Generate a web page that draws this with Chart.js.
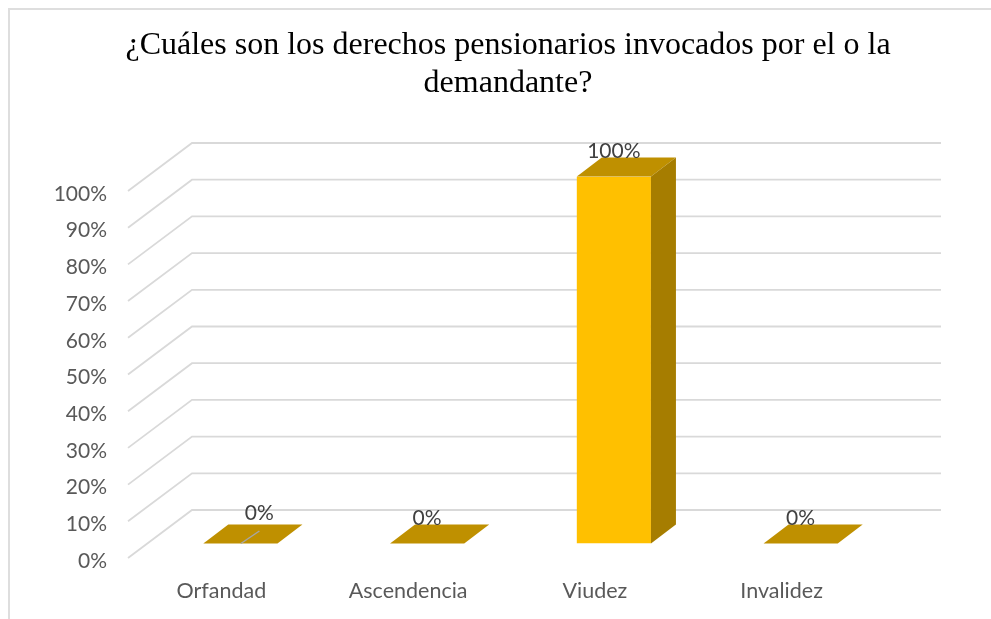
<!DOCTYPE html>
<html><head><meta charset="utf-8">
<style>
html,body{margin:0;padding:0;background:#fff;overflow:hidden}
#wrap{position:relative;width:991px;height:619px}
#frameT{position:absolute;left:8px;top:8px;right:0;height:2px;background:#DEDEDE}
#frameL{position:absolute;left:8px;top:8px;bottom:0;width:2px;background:#DEDEDE}
canvas{position:absolute;left:0;top:0}
</style>
<script src="https://cdn.jsdelivr.net/npm/chart.js@4"></script>
</head><body>
<div id="wrap"><canvas id="c" width="991" height="619"></canvas><div id="frameT"></div><div id="frameL"></div></div>
<script>
const titleLines = ['¿Cuáles son los derechos pensionarios invocados por el o la','demandante?'];
const categories = ['Orfandad','Ascendencia','Viudez','Invalidez'];
const values = [0,0,100,0];
const yMax = 100, yStep = 10;

const wall = {dx:64, dy:-48, right:941};
const barShift = {dx:19, dy:-14.5};
const barDepth = {dx:25, dy:-19};
const labelGap = 25;
const labelNudgeX = [19,0,0,0];
const labelNudgeY = [-5.5,0,0,0];

const scene3d = {
  id:'scene3d',
  afterLayout(chart){ chart.titleBlock.left = 25; chart.titleBlock.right = 991; },
  beforeDatasetsDraw(chart){
    const {ctx, scales:{y}, chartArea:a} = chart;
    ctx.save();
    ctx.strokeStyle='#D9D9D9'; ctx.lineWidth=1.8;
    y.ticks.forEach((t,i)=>{
      const p=y.getPixelForTick(i);
      ctx.beginPath();
      ctx.moveTo(a.left,p);
      ctx.lineTo(a.left+wall.dx,p+wall.dy);
      ctx.lineTo(wall.right,p+wall.dy);
      ctx.stroke();
    });
    ctx.restore();
  },
  beforeDatasetDraw(chart){
    const ctx=chart.ctx; ctx.save(); ctx.translate(barShift.dx,barShift.dy);
  },
  afterDatasetDraw(chart,args){
    const ctx=chart.ctx;
    args.meta.data.forEach(b=>{
      const {x,y,base,width}=b.getProps(['x','y','base','width'],true);
      const l=x-width/2, r=x+width/2;
      ctx.fillStyle='#BF9000';
      ctx.beginPath();
      ctx.moveTo(l,y);ctx.lineTo(l+barDepth.dx,y+barDepth.dy);
      ctx.lineTo(r+barDepth.dx,y+barDepth.dy);ctx.lineTo(r,y);ctx.closePath();ctx.fill();
      if(base-y>0.5){
        ctx.fillStyle='#A67D00';
        ctx.beginPath();
        ctx.moveTo(r,y);ctx.lineTo(r+barDepth.dx,y+barDepth.dy);
        ctx.lineTo(r+barDepth.dx,base+barDepth.dy);ctx.lineTo(r,base);ctx.closePath();ctx.fill();
      }
    });
    ctx.restore();
  },
  afterDatasetsDraw(chart){
    const ctx=chart.ctx, meta=chart.getDatasetMeta(0);
    ctx.save();
    ctx.font='21px Lato'; ctx.fillStyle='#404040';
    ctx.textAlign='center'; ctx.textBaseline='middle';
    meta.data.forEach((b,i)=>{
      const {x,y}=b.getProps(['x','y'],true);
      const cx=x+barShift.dx+labelNudgeX[i], cy=y+barShift.dy-labelGap+labelNudgeY[i];
      ctx.fillText(values[i]+'%',cx,cy);
      if(labelNudgeY[i]){
        ctx.strokeStyle='#A6A6A6'; ctx.lineWidth=1.5;
        ctx.beginPath();
        ctx.moveTo(x+barShift.dx+0.5,y+barShift.dy);
        ctx.lineTo(cx,cy+18);
        ctx.stroke();
      }
    });
    ctx.restore();
  }
};

new Chart(document.getElementById('c'),{
  type:'bar',
  data:{labels:categories,datasets:[{data:values,backgroundColor:'#FFC000',borderWidth:0,
    barPercentage:0.397,categoryPercentage:1}]},
  plugins:[scene3d],
  options:{
    responsive:false,animation:false,
    layout:{padding:{left:0,right:116,top:0,bottom:0}},
    plugins:{
      legend:{display:false},tooltip:{enabled:false},
      title:{display:true,text:titleLines,color:'#000',
        font:{family:'Liberation Serif',size:32,weight:'normal',lineHeight:1.17},
        padding:{top:27,bottom:89.1}}
    },
    scales:{
      x:{grid:{display:false},border:{display:false},
        afterFit(s){s.height=61;},
        ticks:{color:'#595959',font:{family:'Lato',size:21.5},padding:12,maxRotation:0}},
      y:{min:0,max:yMax,grid:{display:false},border:{display:false},
        afterFit(s){s.width=128;},
        ticks:{stepSize:yStep,color:'#595959',font:{family:'Lato',size:21},padding:13,labelOffset:3,
          callback:v=>v+'%'}}
    }
  }
});
</script>
</body></html>
